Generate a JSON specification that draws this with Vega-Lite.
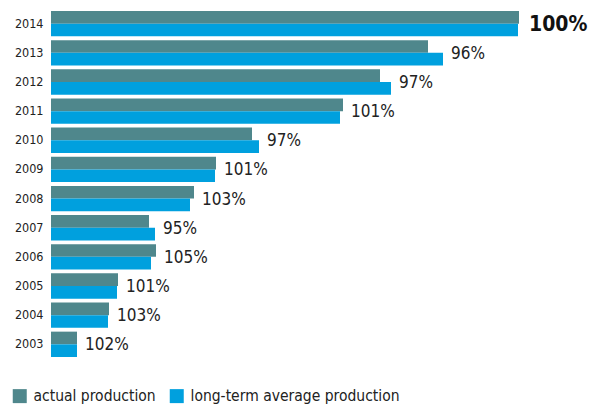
{
  "$schema": "https://vega.github.io/schema/vega-lite/v6.json",
  "autosize": "none",
  "width": 552,
  "height": 346,
  "padding": {"left": 51, "top": 11, "right": 0, "bottom": 47},
  "background": "white",
  "config": {"view": {"stroke": null}, "font": "DejaVu Sans Condensed"},
  "data": {
    "values": [
      {"year": "2014", "series": "actual production", "value": 468, "label": "100%"},
      {"year": "2014", "series": "long-term average production", "value": 467, "label": "100%"},
      {"year": "2013", "series": "actual production", "value": 377, "label": "96%"},
      {"year": "2013", "series": "long-term average production", "value": 392, "label": "96%"},
      {"year": "2012", "series": "actual production", "value": 329, "label": "97%"},
      {"year": "2012", "series": "long-term average production", "value": 340, "label": "97%"},
      {"year": "2011", "series": "actual production", "value": 292, "label": "101%"},
      {"year": "2011", "series": "long-term average production", "value": 289, "label": "101%"},
      {"year": "2010", "series": "actual production", "value": 201, "label": "97%"},
      {"year": "2010", "series": "long-term average production", "value": 208, "label": "97%"},
      {"year": "2009", "series": "actual production", "value": 165, "label": "101%"},
      {"year": "2009", "series": "long-term average production", "value": 164, "label": "101%"},
      {"year": "2008", "series": "actual production", "value": 143, "label": "103%"},
      {"year": "2008", "series": "long-term average production", "value": 139, "label": "103%"},
      {"year": "2007", "series": "actual production", "value": 98, "label": "95%"},
      {"year": "2007", "series": "long-term average production", "value": 104, "label": "95%"},
      {"year": "2006", "series": "actual production", "value": 105, "label": "105%"},
      {"year": "2006", "series": "long-term average production", "value": 100, "label": "105%"},
      {"year": "2005", "series": "actual production", "value": 67, "label": "101%"},
      {"year": "2005", "series": "long-term average production", "value": 66, "label": "101%"},
      {"year": "2004", "series": "actual production", "value": 58, "label": "103%"},
      {"year": "2004", "series": "long-term average production", "value": 57, "label": "103%"},
      {"year": "2003", "series": "actual production", "value": 26, "label": "102%"},
      {"year": "2003", "series": "long-term average production", "value": 26, "label": "102%"}
    ]
  },
  "encoding": {
    "y": {
      "field": "year",
      "type": "nominal",
      "sort": "descending",
      "scale": {"paddingInner": 0.13, "paddingOuter": 0},
      "axis": {
        "title": null,
        "domain": false,
        "ticks": false,
        "labelPadding": 8,
        "labelFontSize": 12.5,
        "labelColor": "#222222",
        "labelFont": "DejaVu Sans Condensed"
      }
    }
  },
  "layer": [
    {
      "mark": {"type": "bar"},
      "encoding": {
        "x": {
          "field": "value",
          "type": "quantitative",
          "scale": {"domain": [0, 552], "nice": false, "zero": true},
          "axis": null
        },
        "yOffset": {
          "field": "series",
          "type": "nominal",
          "sort": ["actual production", "long-term average production"]
        },
        "color": {
          "field": "series",
          "type": "nominal",
          "scale": {
            "domain": ["actual production", "long-term average production"],
            "range": ["#4f878c", "#00a0de"]
          },
          "legend": {
            "title": null,
            "orient": "none",
            "direction": "horizontal",
            "legendX": -39,
            "legendY": 377,
            "symbolType": "square",
            "symbolSize": 196,
            "symbolStrokeWidth": 0,
            "labelFontSize": 15.5,
            "labelFont": "DejaVu Sans Condensed",
            "labelColor": "#222222",
            "labelLimit": 400,
            "labelOffset": 6,
            "columnPadding": 13
          }
        }
      }
    },
    {
      "transform": [{"filter": "datum.year != '2014'"}],
      "mark": {"type": "text", "align": "left", "baseline": "middle", "dx": 8, "dy": 1, "fontSize": 17, "color": "#222222", "font": "DejaVu Sans Condensed"},
      "encoding": {
        "x": {"aggregate": "max", "field": "value", "type": "quantitative"},
        "text": {"field": "label", "type": "nominal"}
      }
    },
    {
      "transform": [{"filter": "datum.year == '2014'"}],
      "mark": {"type": "text", "align": "left", "baseline": "middle", "dx": 10, "dy": 1, "fontSize": 21, "fontWeight": "bold", "color": "#111111", "font": "DejaVu Sans Condensed"},
      "encoding": {
        "x": {"aggregate": "max", "field": "value", "type": "quantitative"},
        "text": {"field": "label", "type": "nominal"}
      }
    }
  ]
}
